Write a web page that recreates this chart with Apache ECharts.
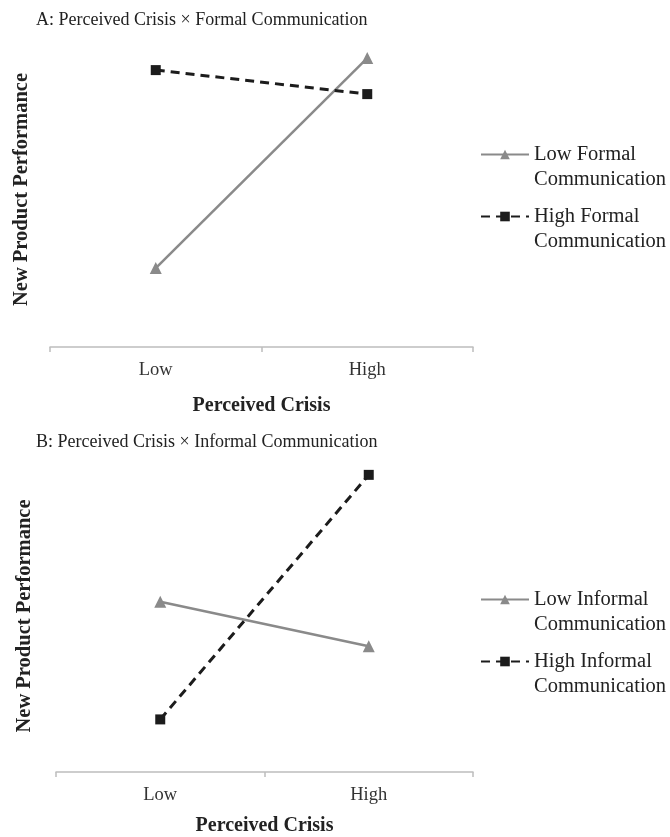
<!DOCTYPE html>
<html>
<head>
<meta charset="utf-8">
<script src="https://cdn.jsdelivr.net/npm/echarts@6/dist/echarts.min.js"></script>
<style>
  html, body { margin: 0; padding: 0; background: #fff; }
  #chart { width: 670px; height: 837px; }
</style>
</head>
<body>
<div id="chart"></div>
<script>
// 数据
const categories = ['Low', 'High'];
// A: formal communication
const lowFormal = [2.63, 9.63];
const highFormal = [9.23, 8.43];
// B: informal communication
const lowInformal = [5.73, 4.23];
const highInformal = [1.77, 10.0];

const FONT = '"Liberation Serif", "DejaVu Serif", serif';
const GRAY = '#8a8a8a';
const BLACK = '#1c1c1c';

const chart = echarts.init(document.getElementById('chart'));

// 两个面板公用的坐标轴样式
function xAxisFor(gridIndex, nameGap) {
  return {
    type: 'category',
    gridIndex: gridIndex,
    data: categories,
    boundaryGap: true,
    name: 'Perceived Crisis',
    nameLocation: 'middle',
    nameGap: nameGap,
    nameTextStyle: { fontFamily: FONT, fontSize: 20, fontWeight: 'bold', color: '#222' },
    axisLine: { show: true, lineStyle: { color: '#bdbdbd', width: 1.5 } },
    axisTick: { show: true, length: 5, lineStyle: { color: '#bdbdbd', width: 1.5 } },
    axisLabel: { fontFamily: FONT, fontSize: 18.5, color: '#333', margin: 14 },
    splitLine: { show: false }
  };
}
function yAxisFor(gridIndex, nameGap) {
  return {
    type: 'value',
    gridIndex: gridIndex,
    min: 0,
    max: 10.5,
    name: 'New Product Performance',
    nameLocation: 'middle',
    nameRotate: 90,
    nameGap: nameGap,
    nameTextStyle: { fontFamily: FONT, fontSize: 20.5, fontWeight: 'bold', color: '#222' },
    axisLine: { show: false },
    axisTick: { show: false },
    axisLabel: { show: false },
    splitLine: { show: false }
  };
}
// 图例：首行与图标对齐（前面加一个空行）
function legendFor(names, top) {
  return {
    orient: 'vertical',
    left: 480,
    top: top,
    padding: 0,
    itemWidth: 48,
    itemHeight: 12,
    itemGap: -13,
    data: names,
    formatter: function (n) { return '\n' + n.replace(' Communication', '\nCommunication'); },
    textStyle: { fontFamily: FONT, fontSize: 20.5, color: '#222', lineHeight: 25 }
  };
}
function lineSeries(name, data, idx, solid) {
  return {
    name: name,
    type: 'line',
    xAxisIndex: idx,
    yAxisIndex: idx,
    data: data,
    symbol: solid ? 'triangle' : 'rect',
    symbolSize: solid ? 12 : 10,
    color: solid ? GRAY : BLACK,
    lineStyle: solid ? { color: GRAY, width: 2.5, type: 'solid' } : { color: BLACK, width: 3, type: [9, 6] },
    itemStyle: { color: solid ? GRAY : BLACK },
    animation: false
  };
}

const option = {
  backgroundColor: '#fff',
  animation: false,
  title: [
    { text: 'A: Perceived Crisis × Formal Communication', left: 31, top: 6,
      textStyle: { fontFamily: FONT, fontSize: 18, fontWeight: 'normal', color: '#222' } },
    { text: 'B: Perceived Crisis × Informal Communication', left: 31, top: 428,
      textStyle: { fontFamily: FONT, fontSize: 18, fontWeight: 'normal', color: '#222' } }
  ],
  legend: [
    legendFor(['Low Formal Communication', 'High Formal Communication'], 117),
    legendFor(['Low Informal Communication', 'High Informal Communication'], 562)
  ],
  grid: [
    { left: 50, width: 423, top: 32, height: 315 },
    { left: 56, width: 417, top: 460, height: 315 }
  ],
  xAxis: [xAxisFor(0, 49), xAxisFor(1, 44)],
  yAxis: [yAxisFor(0, 18), yAxisFor(1, 21)],
  series: [
    lineSeries('Low Formal Communication', lowFormal, 0, true),
    lineSeries('High Formal Communication', highFormal, 0, false),
    lineSeries('Low Informal Communication', lowInformal, 1, true),
    lineSeries('High Informal Communication', highInformal, 1, false)
  ]
};
chart.setOption(option);
</script>
</body>
</html>
